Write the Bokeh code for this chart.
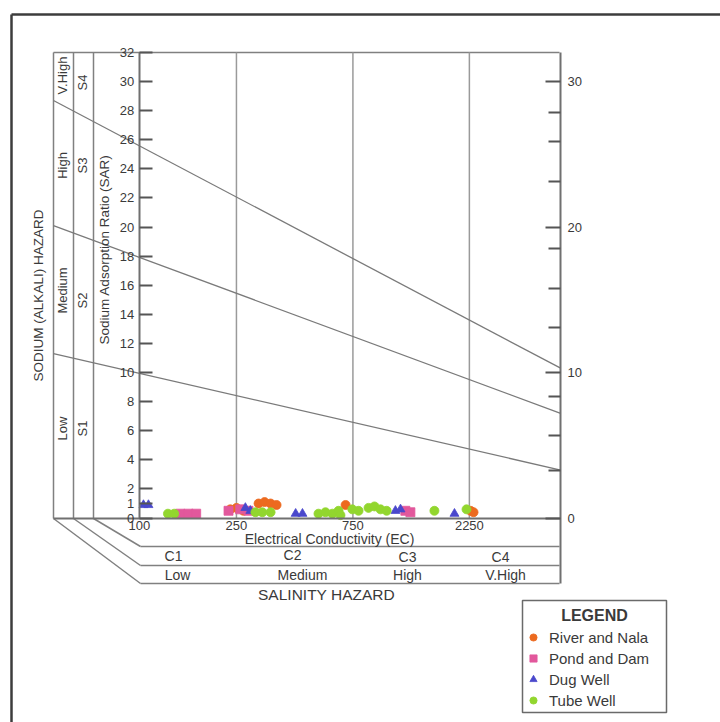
import numpy as np
from bokeh.plotting import figure
from bokeh.models import (Range1d, LinearAxis, LogAxis, FixedTicker, NumeralTickFormatter,
                          Legend, LegendItem, LinearScale)
from bokeh.core.properties import value
from bokeh.embed import file_html
from bokeh.resources import INLINE

# ---------------- data ----------------
river_ec = [236, 250, 267, 308, 326, 345, 365, 700, 2275, 2340]
river_sar = [0.6, 0.7, 0.5, 1.0, 1.1, 1.0, 0.9, 0.9, 0.5, 0.4]
pond_ec = [147, 159, 171, 232, 259, 280, 1230, 1290]
pond_sar = [0.3, 0.3, 0.3, 0.5, 0.6, 0.5, 0.5, 0.4]
dug_ec = [104, 109, 272, 285, 437, 466, 1120, 1175, 1955]
dug_sar = [0.9, 0.9, 0.7, 0.5, 0.3, 0.3, 0.5, 0.6, 0.3]
tube_ec = [131, 139, 299, 319, 345, 542, 579, 618, 655, 667, 746, 791, 869, 919, 973, 1031, 1618, 2190]
tube_sar = [0.3, 0.3, 0.4, 0.4, 0.4, 0.3, 0.4, 0.3, 0.5, 0.2, 0.6, 0.5, 0.7, 0.8, 0.6, 0.5, 0.5, 0.6]

series_names = ["River and Nala", "Pond and Dam", "Dug Well", "Tube Well"]
series_colors = ["#ec6a1f", "#e2589c", "#4a48cc", "#92d62e"]
series_markers = ["circle", "square", "triangle", "circle"]

# sodium hazard boundary lines (EC ends, SAR at ends)
hazard_ec = [44.5, 5320]
s1_s2 = [11.3, 3.3]
s2_s3 = [20.1, 7.2]
s3_s4 = [28.7, 10.3]

ec_ticks = [100, 250, 750, 2250]
sar_ticks = [0, 1, 2, 4, 6, 8, 10, 12, 14, 16, 18, 20, 22, 24, 26, 28, 30, 32]
right_major = [0, 10, 20, 30]
right_minor = [3.3, 5.7, 8.35, 13.1, 15.8, 18.5, 23.1, 25.9, 27.9]

left_col1 = ["V.High", "High", "Medium", "Low"]
left_col2 = ["S4", "S3", "S2", "S1"]
c_classes = ["C1", "C2", "C3", "C4"]
c_levels = ["Low", "Medium", "High", "V.High"]

FONT = value("Liberation Sans")
TXT = "#3a3a3a"
LINE = "#808080"

W, H = 720, 722
p = figure(width=W, height=H, x_axis_type="log",
           x_range=Range1d(27.0, 24040), y_range=Range1d(-14.05, 35.57),
           x_axis_location=None, y_axis_location=None,
           output_backend="svg", toolbar_location=None, min_border=0)
p.outline_line_color = None
p.grid.visible = False
p.background_fill_color = "white"
p.extra_x_ranges = {"px": Range1d(0, W)}
p.extra_x_scales = {"px": LinearScale()}
p.extra_y_ranges = {"py": Range1d(H, 0)}
p.extra_y_scales = {"py": LinearScale()}
PX = dict(x_range_name="px", y_range_name="py")

# outer border
p.segment(x0=[11, 11], y0=[14, 14], x1=[11, 740], y1=[740, 14],
          line_color="#3c3c3c", line_width=2.5, **PX)

# diagram frame pieces
fx0 = [53, 53, 73, 93, 53, 73, 93, 140, 140, 140]
fy0 = [52, 52, 52, 52, 518, 518, 518, 546, 565, 583]
fx1 = [559, 53, 73, 93, 140, 140, 140, 559, 559, 559]
fy1 = [52, 518, 518, 518, 583, 565, 546, 546, 565, 583]
p.segment(x0=fx0, y0=fy0, x1=fx1, y1=fy1, line_color=LINE, line_width=1.5, **PX)

# vertical EC grid lines
p.segment(x0=ec_ticks[1:], y0=[0] * 3, x1=ec_ticks[1:], y1=[32] * 3,
          line_color="#9a9a9a", line_width=1.5)

# sodium hazard lines
for s in (s1_s2, s2_s3, s3_s4):
    p.line(hazard_ec, s, line_color="#7a7a7a", line_width=1.3)

# axes
ax_l = LinearAxis(fixed_location=100, bounds=(0, 32), ticker=FixedTicker(ticks=sar_ticks, minor_ticks=[]))
ax_l.major_tick_in = 13
ax_l.major_tick_out = 0
ax_l.major_label_standoff = 5
p.add_layout(ax_l, "left")

ax_b = LogAxis(fixed_location=0, bounds=(44.5, 5320), ticker=FixedTicker(ticks=ec_ticks, minor_ticks=[]),
               formatter=NumeralTickFormatter(format="0"))
ax_b.major_tick_in = 0
ax_b.major_tick_out = 0
ax_b.major_label_standoff = 3
p.add_layout(ax_b, "below")

ax_r = LinearAxis(fixed_location=5320, bounds=(-4.5, 32),
                  ticker=FixedTicker(ticks=right_major, minor_ticks=right_minor))
ax_r.major_tick_in = 15
ax_r.major_tick_out = 0
ax_r.minor_tick_in = 12
ax_r.minor_tick_out = 0
ax_r.major_label_standoff = 7
p.add_layout(ax_r, "right")

for ax in (ax_l, ax_b, ax_r):
    ax.axis_line_color = "#707070"
    ax.axis_line_width = 2
    ax.major_tick_line_color = "#555555"
    ax.major_tick_line_width = 2
    ax.minor_tick_line_color = "#555555"
    ax.minor_tick_line_width = 2
    ax.major_label_text_font = "Liberation Sans"
    ax.major_label_text_font_size = "13px"
    ax.major_label_text_color = TXT

# texts
def txt(x, y, t, size="13px", angle=0.0, style="normal", align="center"):
    p.text(x=x, y=y, text=t, angle=angle, text_align=align, text_baseline="middle",
           text_font=FONT, text_font_size=size, text_color=TXT, text_font_style=style, **PX)

txt([62, 62, 62, 62], [75, 165, 290, 428], left_col1, angle=np.pi / 2)
txt([82, 82, 82, 82], [82, 165, 300, 428], left_col2, angle=np.pi / 2)
txt([104], [249], ["Sodium Adsorption Ratio (SAR)"], size="13.5px", angle=np.pi / 2)
txt([38], [295], ["SODIUM (ALKALI) HAZARD"], size="13.5px", angle=np.pi / 2)
txt([331], [538], ["Electrical Conductivity  (EC)"], size="14px")
txt([173, 292, 407, 500], [555, 554, 556, 556], c_classes, size="14px")
txt([177, 302, 407, 505], [574, 574, 574, 574], c_levels, size="14px")
txt([326], [594], ["SALINITY HAZARD"], size="15.5px")

# legend box
p.quad(left=[522], right=[666], top=[600], bottom=[712], fill_color="white",
       line_color="#6a6a6a", line_width=1.5, **PX)
txt([594], [615], ["LEGEND"], size="16px", style="bold")

# data
renderers = []
for ec, sar, col, mk in zip((river_ec, pond_ec, dug_ec, tube_ec),
                            (river_sar, pond_sar, dug_sar, tube_sar),
                            series_colors, series_markers):
    r = p.scatter(ec, sar, marker=mk, size=9, fill_color=col, line_color=col, line_width=0.8)
    renderers.append(r)

legend = Legend(items=[LegendItem(label=n, renderers=[r]) for n, r in zip(series_names, renderers)],
                location=(524, 13), border_line_color=None, background_fill_alpha=0,
                padding=5, margin=0, spacing=3, glyph_width=18, glyph_height=18,
                label_height=18, label_standoff=7,
                label_text_font="Liberation Sans", label_text_font_size="15px",
                label_text_color=TXT)
p.add_layout(legend)

open("out.html", "w").write(file_html(p, INLINE))
